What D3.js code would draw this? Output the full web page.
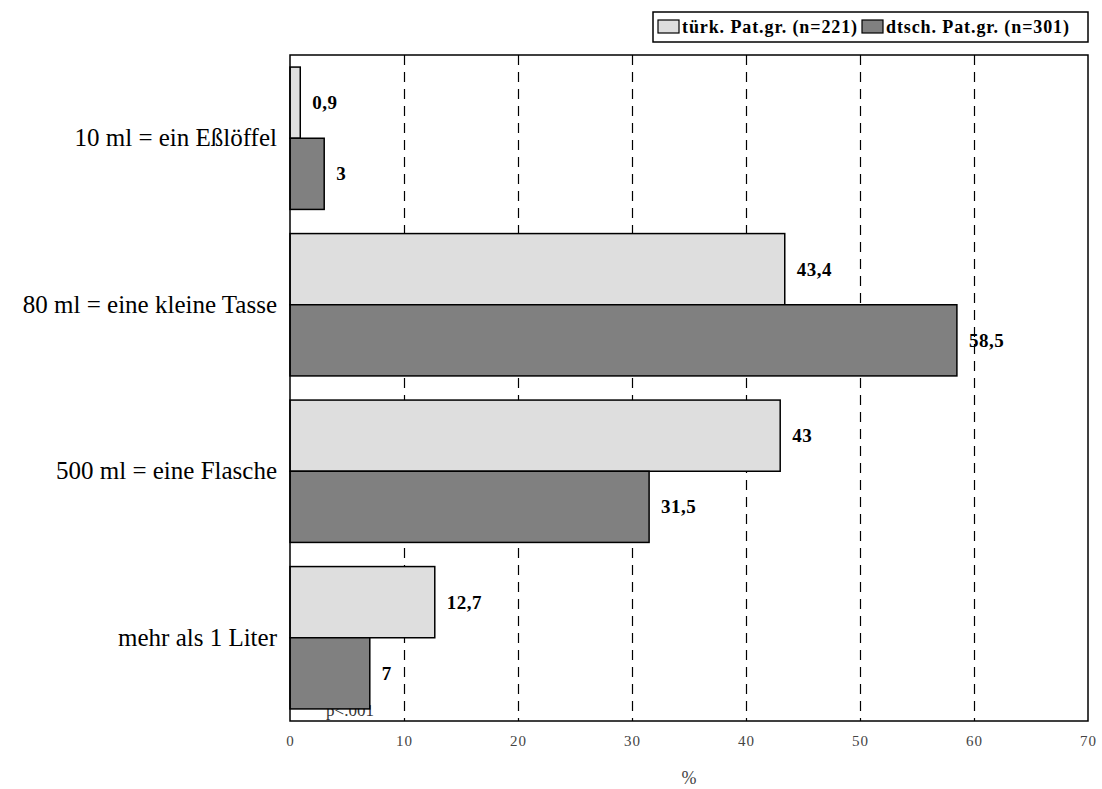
<!DOCTYPE html>
<html>
<head>
<meta charset="utf-8">
<script src="https://cdn.jsdelivr.net/npm/d3@7"></script>
<style>
  html, body { margin: 0; padding: 0; background: #fff; }
  svg { display: block; }
</style>
</head>
<body>
<svg id="chart" width="1102" height="789"></svg>
<script>
// Categories (drink amounts) and percentages per patient group
const categories = ["10 ml = ein Eßlöffel", "80 ml = eine kleine Tasse", "500 ml = eine Flasche", "mehr als 1 Liter"];
const seriesNames = ["türk. Pat.gr. (n=221)", "dtsch. Pat.gr. (n=301)"];
const turkValues = [0.9, 43.4, 43, 12.7];
const germanValues = [3, 58.5, 31.5, 7];
const valueLabels = [["0,9", "43,4", "43", "12,7"], ["3", "58,5", "31,5", "7"]];
const xTicks = [0, 10, 20, 30, 40, 50, 60, 70];
const colors = ["#dedede", "#808080"];

const svg = d3.select("#chart");
const plotLeft = 290, plotRight = 1088, plotTop = 55, plotBottom = 721;
const serif = "'Liberation Serif', 'DejaVu Serif', serif";

const x = d3.scaleLinear().domain([0, 70]).range([plotLeft, plotRight]);
const y = d3.scaleBand().domain(categories).range([plotTop, plotBottom])
  .paddingInner(0.145).paddingOuter(0.0725);
const ySub = d3.scaleBand().domain([0, 1]).range([0, y.bandwidth()]);

// dashed vertical gridlines (half-pixel offset keeps them crisp)
svg.append("g").selectAll("line")
  .data(xTicks.filter(t => t > 0 && t < 70))
  .join("line")
  .attr("x1", d => Math.round(x(d)) + 0.5).attr("x2", d => Math.round(x(d)) + 0.5)
  .attr("y1", plotTop).attr("y2", plotBottom)
  .attr("stroke", "#000").attr("stroke-width", 1.2)
  .attr("stroke-dasharray", "10,7");

// significance note sits under the bars
svg.append("text")
  .attr("x", 350).attr("y", 716)
  .attr("text-anchor", "middle")
  .attr("font-family", serif).attr("font-size", 17)
  .attr("fill", "#333")
  .text("p<.001");

// bars
const series = [turkValues, germanValues];
series.forEach((vals, si) => {
  const g = svg.append("g");
  g.selectAll("rect")
    .data(vals)
    .join("rect")
    .attr("x", x(0))
    .attr("y", (d, i) => y(categories[i]) + ySub(si))
    .attr("width", d => x(d) - x(0))
    .attr("height", ySub.bandwidth())
    .attr("fill", colors[si])
    .attr("stroke", "#000").attr("stroke-width", 1.5);
  g.selectAll("text")
    .data(vals)
    .join("text")
    .attr("x", d => x(d) + 12)
    .attr("y", (d, i) => y(categories[i]) + ySub(si) + ySub.bandwidth() / 2)
    .attr("dy", "0.35em")
    .attr("font-family", serif).attr("font-size", 19).attr("font-weight", "bold")
    .attr("letter-spacing", 0.5)
    .attr("fill", "#000")
    .text((d, i) => valueLabels[si][i]);
});

// plot frame
svg.append("rect")
  .attr("x", plotLeft).attr("y", plotTop)
  .attr("width", plotRight - plotLeft).attr("height", plotBottom - plotTop)
  .attr("fill", "none").attr("stroke", "#000").attr("stroke-width", 1.5);

// x axis tick labels
const xAxis = d3.axisBottom(x).tickValues(xTicks).tickSize(0).tickPadding(14);
const gx = svg.append("g").attr("transform", `translate(0,${plotBottom})`).call(xAxis);
gx.select(".domain").remove();
gx.selectAll("text")
  .attr("font-family", serif).attr("font-size", 15).attr("letter-spacing", 1)
  .attr("fill", "#444");

// x axis title
svg.append("text")
  .attr("x", (plotLeft + plotRight) / 2).attr("y", 784)
  .attr("text-anchor", "middle")
  .attr("font-family", serif).attr("font-size", 18).attr("fill", "#444")
  .text("%");

// category labels
const yAxis = d3.axisLeft(y).tickSize(0).tickPadding(13);
const gy = svg.append("g").attr("transform", `translate(${plotLeft},0)`).call(yAxis);
gy.select(".domain").remove();
gy.selectAll("text")
  .attr("font-family", serif).attr("font-size", 25).attr("fill", "#000");

// legend
const legend = svg.append("g");
legend.append("rect")
  .attr("x", 653).attr("y", 12).attr("width", 435).attr("height", 30)
  .attr("fill", "#fff").attr("stroke", "#000").attr("stroke-width", 1.5);
const legendX = [658, 862];
seriesNames.forEach((name, i) => {
  legend.append("rect")
    .attr("x", legendX[i]).attr("y", 20).attr("width", 21).attr("height", 13)
    .attr("fill", colors[i]).attr("stroke", "#000").attr("stroke-width", 1.2);
  legend.append("text")
    .attr("x", legendX[i] + 24).attr("y", 27)
    .attr("dy", "0.35em")
    .attr("font-family", serif).attr("font-size", 18).attr("font-weight", "bold")
    .attr("letter-spacing", 0.9)
    .text(name);
});
</script>
</body>
</html>
